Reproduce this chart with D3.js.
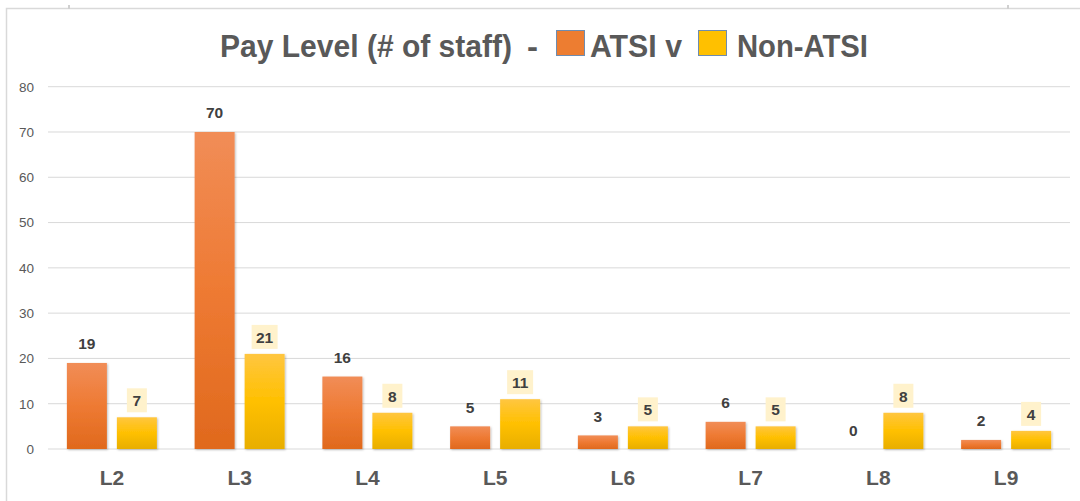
<!DOCTYPE html>
<html><head><meta charset="utf-8">
<script src="https://cdn.jsdelivr.net/npm/d3@7"></script>
<style>html,body{margin:0;padding:0;background:#fff;}svg{display:block;}</style>
</head><body>
<svg id="chart" width="1080" height="501"></svg>
<script>
const categories = ["L2","L3","L4","L5","L6","L7","L8","L9"];
const atsi = [19,70,16,5,3,6,0,2];
const nonAtsi = [7,21,8,11,5,5,8,4];
const seriesNames = ["ATSI v","Non-ATSI"];
const yTicks = [0,10,20,30,40,50,60,70,80];

(function(){
const svg=d3.select("#chart");
const defs=svg.append("defs");
function grad(id,stops){const g=defs.append("linearGradient").attr("id",id).attr("x1",0).attr("y1",0).attr("x2",0).attr("y2",1);
 stops.forEach(s=>g.append("stop").attr("offset",s[0]).attr("stop-color",s[1]));}
grad("gO",[[0,"#F18D57"],[0.5,"#EE7A33"],[1,"#E0691D"]]);
grad("gY",[[0,"#FFC640"],[0.5,"#FFC000"],[1,"#E8AE00"]]);
const f=defs.append("filter").attr("id","sh").attr("x","-20%").attr("y","-20%").attr("width","140%").attr("height","140%");
f.append("feDropShadow").attr("dx",1).attr("dy",1).attr("stdDeviation",1.2).attr("flood-color","#000").attr("flood-opacity",0.25);

// frame
svg.append("path").attr("d","M6.5,501 V8.5 H1080").attr("fill","none").attr("stroke","#D9D9D9").attr("stroke-width",1.5);
svg.append("rect").attr("x",68).attr("y",5).attr("width",2).attr("height",4).attr("fill","#D0D0D0");
svg.append("rect").attr("x",1007).attr("y",5).attr("width",2).attr("height",4).attr("fill","#D0D0D0");

const pL=48,pR=1070,pT=86.7,pB=449;
const y=d3.scaleLinear().domain([0,80]).range([pB,pT]);
const x0=d3.scaleBand().domain(categories).range([pL,pR]).paddingInner(0.2955).paddingOuter(0.1478);
const x1=d3.scaleBand().domain(seriesNames).range([0,x0.bandwidth()]).paddingInner(0.2).paddingOuter(0);

svg.append("g").selectAll("line").data(yTicks).join("line")
 .attr("x1",pL).attr("x2",pR).attr("y1",d=>y(d)).attr("y2",d=>y(d))
 .attr("stroke","#D9D9D9").attr("stroke-width",1);

const yAxis=d3.axisLeft(y).tickValues(yTicks).tickSize(0).tickPadding(0);
const ya=svg.append("g").attr("transform","translate(34,0)").call(yAxis);
ya.select(".domain").remove();
ya.selectAll("text").attr("fill","#595959").style("font-family","'Liberation Sans',Arial,sans-serif").style("font-size","13.5px");

const xAxis=d3.axisBottom(x0).tickSize(0).tickPadding(0);
const xa=svg.append("g").attr("transform","translate(0,470)").call(xAxis);
xa.select(".domain").remove();
xa.selectAll("text").attr("fill","#595959").style("font-family","'Liberation Sans',Arial,sans-serif").style("font-size","21px").style("font-weight","bold");

const rows=categories.map((c,i)=>({c,vals:[{s:seriesNames[0],v:atsi[i]},{s:seriesNames[1],v:nonAtsi[i]}]}));
const groups=svg.append("g").selectAll("g").data(rows).join("g").attr("transform",d=>`translate(${x0(d.c)},0)`);
groups.selectAll("rect.bar").data(d=>d.vals.filter(v=>v.v>0)).join("rect").attr("class","bar")
 .attr("x",d=>x1(d.s)).attr("width",x1.bandwidth())
 .attr("y",d=>y(d.v)).attr("height",d=>y(0)-y(d.v))
 .attr("fill",d=>d.s===seriesNames[0]?"url(#gO)":"url(#gY)")
 .attr("filter","url(#sh)");

const lf="'Liberation Sans',Arial,sans-serif";
groups.selectAll("text.lo").data(d=>[d.vals[0]]).join("text").attr("class","lo")
 .attr("x",d=>x1(d.s)+x1.bandwidth()/2).attr("y",d=>y(d.v)-13.5)
 .attr("text-anchor","middle").attr("fill","#404040")
 .style("font-family",lf).style("font-size","15.5px").style("font-weight","bold").text(d=>d.v);
const ly=groups.selectAll("g.ly").data(d=>[d.vals[1]]).join("g").attr("class","ly");
ly.append("rect").attr("x",d=>x1(d.s)+x1.bandwidth()/2-(String(d.v).length>1?13:10))
 .attr("width",d=>String(d.v).length>1?26:20).attr("y",d=>y(d.v)-29).attr("height",24).attr("fill","#FFF2CC");
ly.append("text").attr("x",d=>x1(d.s)+x1.bandwidth()/2).attr("y",d=>y(d.v)-11)
 .attr("text-anchor","middle").attr("fill","#404040")
 .style("font-family",lf).style("font-size","15.5px").style("font-weight","bold").text(d=>d.v);

const tf="'Liberation Sans Narrow','Liberation Sans',Arial,sans-serif";
const tg=svg.append("g");
function tt(x,w,s){tg.append("text").attr("x",x).attr("y",57).attr("textLength",w).attr("lengthAdjust","spacingAndGlyphs")
 .attr("fill","#595959").style("font-family",tf).style("font-size","31px").style("font-weight","bold").text(s);}
tt(220,292,"Pay Level (# of staff)");
tt(527,11,"-");
tg.append("rect").attr("x",556.5).attr("y",30.5).attr("width",28).attr("height",25).attr("fill","#ED7D31").attr("stroke","#6E8CB0").attr("stroke-width",1);
tt(590,92,seriesNames[0]);
tg.append("rect").attr("x",698.5).attr("y",30.5).attr("width",28).attr("height",25).attr("fill","#FFC000").attr("stroke","#6E8CB0").attr("stroke-width",1);
tt(737,131,seriesNames[1]);
})();
</script>
</body></html>
